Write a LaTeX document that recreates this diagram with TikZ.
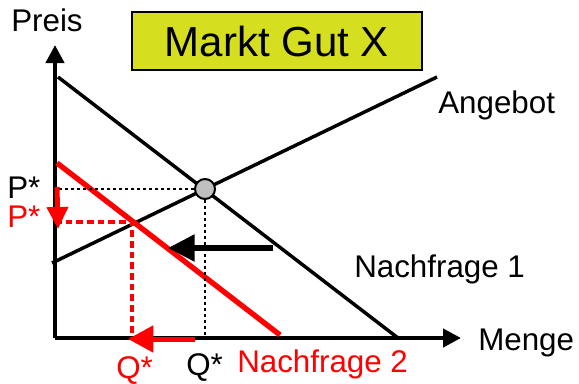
\documentclass[tikz,border=0pt]{standalone}
\usepackage{fontspec}
\setmainfont{Liberation Sans}
\usetikzlibrary{arrows.meta}

\definecolor{titlefill}{RGB}{214,222,32}
\definecolor{eqfill}{RGB}{192,192,192}

\tikzset{
  lbl/.style={inner sep=0pt, anchor=base west, font=\fontsize{23.5}{28}\selectfont},
  axis/.style={line width=3.2pt, -{Triangle[length=13.5pt,width=13.5pt]}},
  curve/.style={line width=2.6pt},
  shiftcurve/.style={line width=4pt, red},
  guide/.style={line width=1.8pt, dash pattern=on 2.25pt off 2.25pt},
  redguide/.style={line width=3pt, red, dash pattern=on 5pt off 3pt},
}

\begin{document}
\begin{tikzpicture}[x=0.75pt,y=0.75pt,yscale=-1,xscale=1]
\useasboundingbox (0,0) rectangle (579,383);

%Title
\node [draw, line width=1.5pt, fill=titlefill, minimum width=217.5pt, minimum height=43.5pt,
       font=\fontsize{31.5}{36}\selectfont] (title) at (277,41) {Markt Gut X};

%Coordinates
\coordinate (o) at (55,338);
\coordinate (ytop) at (55,45);
\coordinate (xend) at (461,338);
\coordinate (s1) at (52,263);
\coordinate (s2) at (437,77);
\coordinate (d1a) at (58,77);
\coordinate (d1b) at (398,338);
\coordinate (d2a) at (57,163);
\coordinate (d2b) at (280,335);
\coordinate (gg2) at (132,222);

%Axes
\draw [axis] (o) -- (ytop);
\draw [axis] (o) -- (xend);

%Straight Lines
\draw [curve] (s1) -- (s2);
\draw [curve] (d1a) -- (d1b);
\draw [shiftcurve] (d2a) -- (d2b);

%Equilibrium
\node [circle, draw, line width=1.5pt, fill=eqfill, minimum size=15pt, inner sep=0pt] (gg) at (205,189) {};
\draw [guide] (gg.west) -- (gg.west -| o);
\draw [guide] (gg.south) -- (gg.south |- o);
\draw [redguide] (gg2 -| o) -- (gg2) -- (gg2 |- o);

%Arrows
\coordinate (pa1) at (57,187);
\coordinate (pa2) at (58,229);
\draw [red, line width=3.75pt, -{Triangle[length=16.5pt,width=15.5pt]}] (pa1) -- (pa2);
\coordinate (qa1) at (195,339);
\coordinate (qa2) at (128,339);
\draw [red, line width=3.75pt, -{Triangle[length=19pt,width=19.5pt]}] (qa1) -- (qa2);
\coordinate (na1) at (273,248);
\coordinate (na2) at (168,248);
\draw [line width=4.2pt, -{Triangle[length=20pt,width=19.5pt]}] (na1) -- (na2);

%Labels
\node [lbl] (preis) at (11,31) {Preis};
\node [lbl] (menge) at (478,350) {Menge};
\node [lbl] (angebot) at (438,113) {Angebot};
\node [lbl] (nf1) at (354,277) {Nachfrage 1};
\node [lbl, red] (nf2) at (237,372) {Nachfrage 2};
\node [lbl] (pstar) at (7,198) {P*};
\node [lbl, red] (pstarneu) at (7,227) {P*};
\node [lbl] (qstar) at (186,375) {Q*};
\node [lbl, red] (qstarneu) at (116,378) {Q*};

\end{tikzpicture}
\end{document}
